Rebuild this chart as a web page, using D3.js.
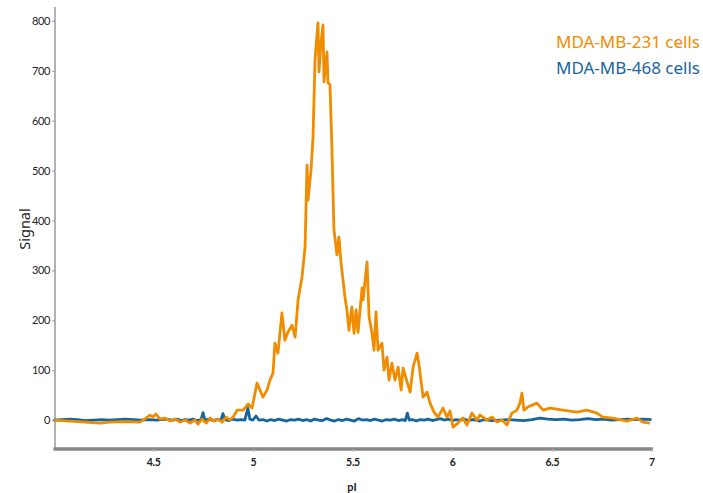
<!DOCTYPE html>
<html><head><meta charset="utf-8">
<script src="https://cdn.jsdelivr.net/npm/d3@7"></script>
<style>
body{margin:0;background:#fff;}
svg{display:block;}
</style></head>
<body>
<svg id="chart" width="703" height="493"></svg>
<script>
// pI positions and signal values
const orangeX = [4.003,4.083,4.158,4.233,4.283,4.359,4.434,4.464,4.484,4.499,4.514,4.534,4.559,4.584,4.610,4.635,4.660,4.685,4.710,4.725,4.745,4.766,4.786,4.806,4.826,4.846,4.866,4.886,4.901,4.921,4.951,4.976,4.996,5.021,5.051,5.071,5.086,5.101,5.111,5.126,5.146,5.161,5.176,5.197,5.212,5.227,5.247,5.262,5.272,5.277,5.292,5.302,5.312,5.317,5.327,5.332,5.342,5.352,5.357,5.372,5.377,5.387,5.397,5.407,5.412,5.422,5.432,5.442,5.462,5.472,5.482,5.497,5.508,5.518,5.528,5.548,5.553,5.573,5.583,5.598,5.608,5.618,5.628,5.648,5.658,5.673,5.683,5.698,5.713,5.729,5.744,5.754,5.774,5.789,5.804,5.824,5.834,5.854,5.874,5.889,5.909,5.929,5.954,5.974,5.989,6.004,6.029,6.054,6.074,6.099,6.124,6.140,6.175,6.200,6.225,6.250,6.275,6.300,6.325,6.340,6.350,6.360,6.380,6.425,6.456,6.491,6.556,6.626,6.676,6.726,6.756,6.806,6.876,6.927,6.957,6.992];
const orangeY = [0,-2,-4,-6,-4,-3,-4,4,10,6,12,2,4,-2,2,-4,0,-6,0,-8,2,-6,4,-2,2,-4,6,0,6,20,20,32,24,74,46,60,80,94,154,134,215,160,176,190,166,241,287,347,511,441,501,567,722,748,796,698,756,792,678,738,676,672,541,381,365,331,367,317,247,221,180,227,174,221,176,265,241,317,207,174,140,217,140,154,100,126,80,114,80,106,60,104,76,56,106,134,110,46,56,34,16,6,24,6,18,-14,-6,4,-10,14,0,10,0,6,-4,0,-10,14,20,34,54,20,26,34,20,24,20,16,20,14,6,4,-2,4,-4,-6];
const blueX = [4.00,4.04,4.08,4.12,4.16,4.20,4.24,4.28,4.32,4.36,4.40,4.44,4.48,4.52,4.56,4.60,4.62,4.64,4.66,4.68,4.70,4.72,4.74,4.75,4.76,4.78,4.80,4.82,4.84,4.85,4.86,4.88,4.90,4.92,4.94,4.96,4.975,4.985,5.00,5.016,5.03,5.05,5.07,5.09,5.11,5.13,5.15,5.17,5.19,5.21,5.23,5.25,5.27,5.29,5.31,5.33,5.35,5.37,5.39,5.41,5.43,5.45,5.47,5.49,5.51,5.53,5.55,5.57,5.59,5.61,5.63,5.65,5.67,5.69,5.71,5.73,5.75,5.765,5.775,5.785,5.80,5.82,5.84,5.86,5.88,5.90,5.92,5.94,5.96,5.98,6.00,6.02,6.04,6.06,6.08,6.10,6.12,6.14,6.16,6.18,6.20,6.24,6.28,6.32,6.36,6.40,6.44,6.48,6.52,6.56,6.60,6.64,6.68,6.72,6.76,6.80,6.84,6.88,6.92,6.96,7.00];
const blueY = [0,1,2,1,-1,0,1,0,1,2,1,0,1,0,2,0,2,-1,1,0,2,-1,1,15,0,2,-1,1,0,13,1,-1,2,0,1,0,24,2,0,8,0,1,-2,1,-1,2,0,-2,1,0,2,-1,1,-2,2,0,-1,3,0,-2,1,-1,2,0,-2,3,0,1,-1,2,0,-2,1,0,2,-1,1,-1,14,0,1,-2,1,0,2,-1,1,3,0,2,-1,1,0,2,-1,1,0,-2,1,0,-1,0,1,0,-1,1,4,2,1,2,0,1,3,1,2,0,1,2,1,2,1];
const xTicks = [4.5,5,5.5,6,6.5,7];
const yTicks = [0,100,200,300,400,500,600,700,800];
const seriesNames = ["MDA-MB-231 cells","MDA-MB-468 cells"];
const seriesColors = ["#F08C00","#17659F"];

const svg = d3.select("#chart");
const x = d3.scaleLinear().domain([4,7]).range([53.5,651.5]);
const y = d3.scaleLinear().domain([-56,828]).range([448,7]);
const narrow = "Lato,'Noto Sans',sans-serif";

// y axis
const yAxis = svg.append("g").attr("transform","translate(55,0)")
  .call(d3.axisLeft(y).tickValues(yTicks).tickSize(3).tickPadding(2).tickFormat(d3.format("d")));
yAxis.select(".domain").attr("stroke","#999").attr("stroke-width",1.5).attr("d","M0,7V448");
yAxis.selectAll(".tick line").attr("stroke","#999");
yAxis.selectAll("text").attr("font-family",narrow).attr("font-size",11).attr("letter-spacing",-0.4).attr("fill","#222");

// x axis
const xAxis = svg.append("g").attr("transform","translate(0,449)")
  .call(d3.axisBottom(x).tickValues(xTicks).tickSize(3).tickPadding(7).tickFormat(d=>String(d)));
xAxis.select(".domain").attr("stroke","#888").attr("stroke-width",3.5).attr("d","M53.5,0H653");
xAxis.selectAll(".tick line").attr("stroke","#bbb");
xAxis.selectAll("text").attr("font-family",narrow).attr("font-size",10.5).attr("font-weight","bold").attr("letter-spacing",-0.3).attr("fill","#222");

// labels
svg.append("text").attr("x",352).attr("y",491).attr("text-anchor","middle")
  .attr("font-family",narrow).attr("font-weight","bold").attr("font-size",11).attr("fill","#222").text("pI");
svg.append("text").attr("transform","translate(30,229) rotate(-90)").attr("text-anchor","middle")
  .attr("font-family","'Noto Sans',sans-serif").attr("font-size",14.5).attr("fill","#222").text("Signal");

// lines
const line = d3.line().x(d=>x(d[0])).y(d=>y(d[1]));
const blue = blueX.map((v,i)=>[v,blueY[i]]);
const orange = orangeX.map((v,i)=>[v,orangeY[i]]);
svg.append("path").datum(blue).attr("d",line).attr("fill","none").attr("stroke",seriesColors[1]).attr("stroke-width",2.8).attr("stroke-linejoin","round");
svg.append("path").datum(orange).attr("d",line).attr("fill","none").attr("stroke",seriesColors[0]).attr("stroke-width",2.8).attr("stroke-linejoin","round");

// legend
seriesNames.forEach((n,i)=>{
  svg.append("text").attr("x",700).attr("y",48+i*26).attr("text-anchor","end")
    .attr("font-family","'Noto Sans',sans-serif").attr("font-size",17).attr("fill",seriesColors[i]).text(n);
});
</script>
</body></html>
